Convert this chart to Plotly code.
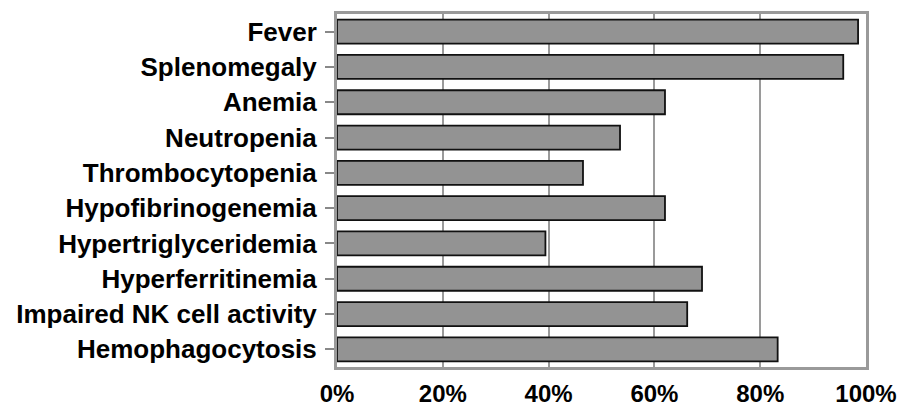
import plotly.graph_objects as go

categories = ["Fever", "Splenomegaly", "Anemia", "Neutropenia", "Thrombocytopenia",
              "Hypofibrinogenemia", "Hypertriglyceridemia", "Hyperferritinemia",
              "Impaired NK cell activity", "Hemophagocytosis"]
percent = [98.5, 95.7, 62.0, 53.5, 46.5, 62.0, 39.4, 69.0, 66.2, 83.3]
x_ticks = [0, 20, 40, 60, 80, 100]
x_tick_labels = ["0%", "20%", "40%", "60%", "80%", "100%"]

FONT = "Liberation Sans, Arial, sans-serif"

fig = go.Figure(go.Bar(
    x=percent, y=categories, orientation="h",
    marker=dict(color="#939393", line=dict(color="#111111", width=1.8)),
))

# page body has an 8px default margin, so the figure is sized to fit the 912x407 window
fig.update_layout(
    width=904, height=399,
    margin=dict(l=329, r=46, t=6, b=40),
    plot_bgcolor="white", paper_bgcolor="white",
    bargap=0.32,
    showlegend=False,
    font=dict(family=FONT, color="black"),
)
fig.update_xaxes(
    range=[0, 100], tickvals=x_ticks, ticktext=x_tick_labels,
    showgrid=True, gridcolor="#9a9a9a", gridwidth=1.5,
    showline=True, linecolor="#9a9a9a", linewidth=3, mirror=True,
    ticks="", ticklabelstandoff=3, automargin=False,
    tickfont=dict(size=24, family=FONT, weight="bold"),
    zeroline=False, fixedrange=True,
)
fig.update_yaxes(
    autorange="reversed", automargin=False,
    showline=True, linecolor="#9a9a9a", linewidth=3, mirror=True,
    ticks="outside", ticklen=9, tickwidth=2, tickcolor="#888888",
    ticklabelstandoff=3,
    tickfont=dict(size=26, family=FONT, weight="bold"),
    fixedrange=True,
)

fig.write_html("out.html")
